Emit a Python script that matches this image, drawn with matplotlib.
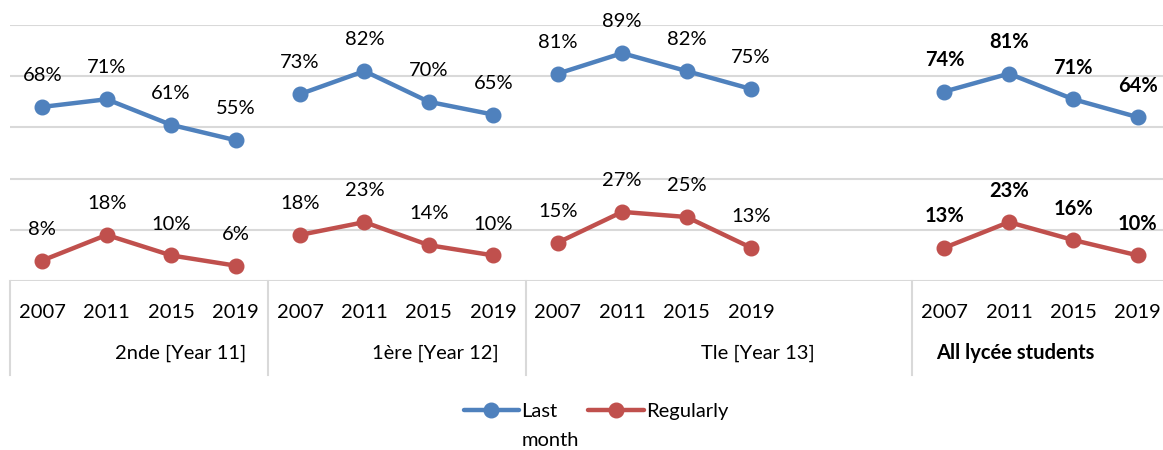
import matplotlib
matplotlib.use("Agg")
import matplotlib.pyplot as plt

# --- Data ---
years = ["2007", "2011", "2015", "2019"]
groups = ["2nde [Year 11]", "1ère [Year 12]", "Tle [Year 13]", "All lycée students"]
series_names = ["Last month", "Regularly"]
last_month = [[68, 71, 61, 55], [73, 82, 70, 65], [81, 89, 82, 75], [74, 81, 71, 64]]
regularly = [[8, 18, 10, 6], [18, 23, 14, 10], [15, 27, 25, 13], [13, 23, 16, 10]]

# --- Layout ---
group_start = [0, 4, 8, 14]          # category slot of each group's first year
separators = [-0.5, 3.5, 7.5, 13.5]
group_label_x = [2.15, 6.1, 11.1, 15.1]
colors = ["#4F81BD", "#C0504D"]
GRID = "#D9D9D9"
W, H = 1163, 450

plt.rcParams["font.family"] = ["Lato", "DejaVu Sans"]
plt.rcParams["font.size"] = 14.5

fig = plt.figure(figsize=(W / 100, H / 100), dpi=100)
ax = fig.add_axes([10 / W, 1 - 281 / H, (1163 - 10) / W, 256 / H])
ax.set_xlim(-0.5, 17.5 - 7 / 64.4)
ax.set_ylim(0, 100)
ax.axis("off")

# horizontal gridlines
for v in range(0, 101, 20):
    ax.axhline(v, color=GRID, lw=1.5, zorder=0)

xt = ax.get_xaxis_transform()
for sx in separators:
    ax.plot([sx, sx], [0, -94 / 256], color=GRID, lw=1.5, transform=xt, clip_on=False)

handles = []
for s, (vals, col) in enumerate(zip([last_month, regularly], colors)):
    for g, start in enumerate(group_start):
        xs = [start + i for i in range(len(years))]
        ln, = ax.plot(xs, vals[g], color=col, lw=3.2, marker="o", markersize=10.5,
                      solid_capstyle="round", clip_on=False, zorder=3)
        weight = "bold" if g == 3 else "normal"
        for x, v in zip(xs, vals[g]):
            ax.annotate(f"{v}%", (x, v), xytext=(0, 22.5), textcoords="offset points",
                        ha="center", va="center", fontweight=weight, color="black")
    handles.append(ln)

# category axis labels
for g, start in enumerate(group_start):
    for i, yr in enumerate(years):
        ax.annotate(yr, (start + i, 0), xycoords=xt, xytext=(0, -23),
                    textcoords="offset points", ha="center", va="center")
    ax.annotate(groups[g], (group_label_x[g], 0), xycoords=xt, xytext=(0, -52),
                textcoords="offset points", ha="center", va="center",
                fontweight="bold" if g == 3 else "normal")

# legend: Excel wraps "Last month" onto two lines, first word beside the marker
first_words = [n.split(" ", 1)[0] for n in series_names]
leg = fig.legend(handles, first_words, loc="center", bbox_to_anchor=(596 / W, 1 - 411 / H),
                 ncol=2, frameon=False, handlelength=2.75, handletextpad=0.1,
                 columnspacing=1.55, fontsize=14.5)
fig.canvas.draw()
renderer = fig.canvas.get_renderer()
for name, txt in zip(series_names, leg.get_texts()):
    rest = name.split(" ", 1)[1:] 
    if rest:
        bb = txt.get_window_extent(renderer)
        fig.text(bb.x0 / W, (bb.y0 + bb.y1) / 2 / H - 29 / H, rest[0],
                 ha="left", va="center", fontsize=14.5)

fig.savefig("out.png", dpi=100)
